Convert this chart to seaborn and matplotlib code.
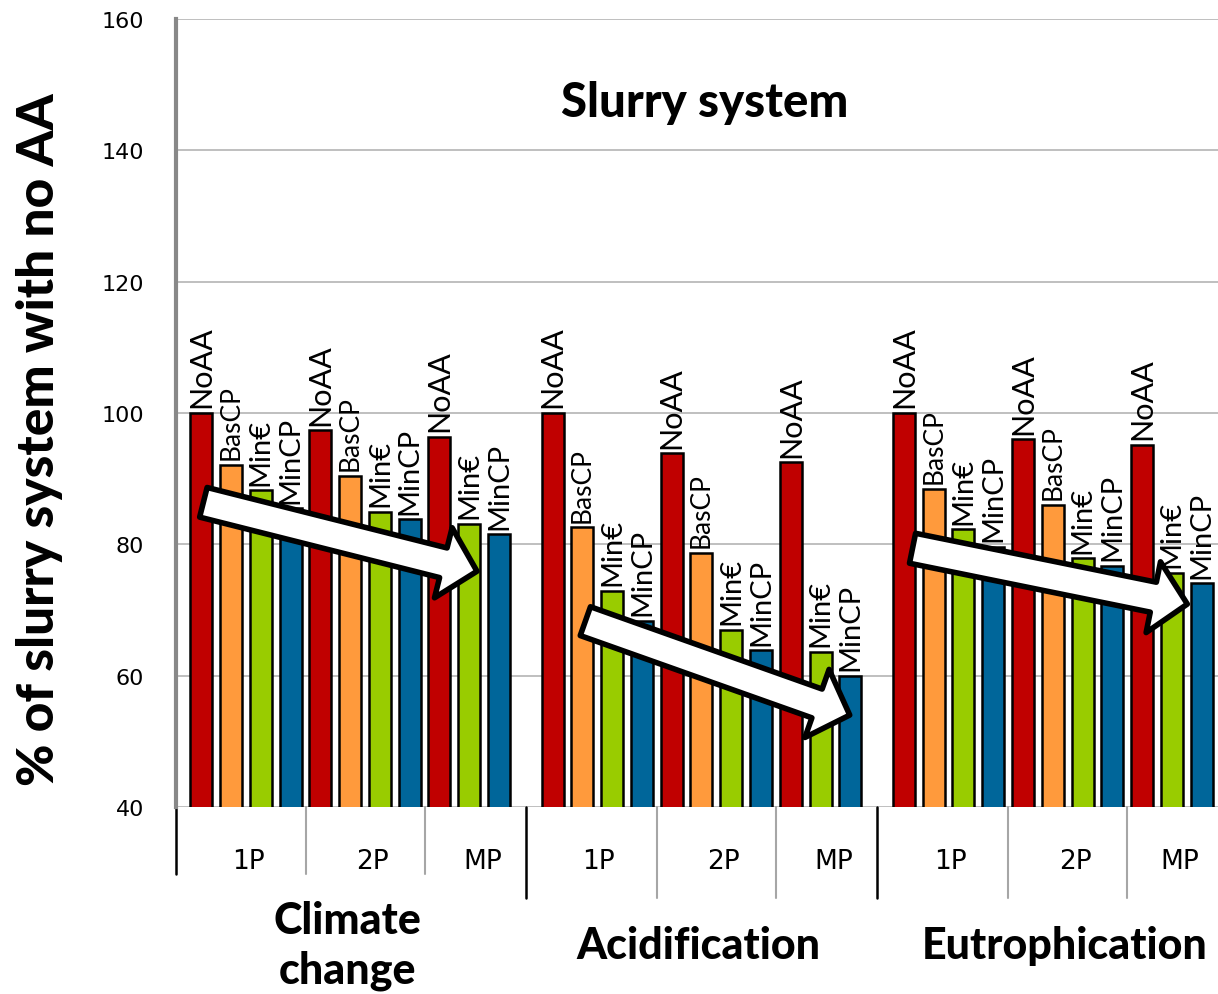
import pandas as pd
import matplotlib
matplotlib.use("Agg")
import matplotlib.pyplot as plt
import matplotlib.transforms as mtransforms
import seaborn as sns

# data (% of slurry system with no AA)
impacts = ["Climate\nchange", "Acidification", "Eutrophication"]
systems = ["1P", "2P", "MP"]
bar_system = ["1P"] * 4 + ["2P"] * 4 + ["MP"] * 3
bar_scenario = ["NoAA", "BasCP", "Min€", "MinCP",
                "NoAA", "BasCP", "Min€", "MinCP",
                "NoAA", "Min€", "MinCP"]
climate = [100, 92.1, 88.2, 85.5, 97.4, 90.4, 85.0, 83.8, 96.4, 83.1, 81.5]
acidification = [100, 82.6, 72.9, 68.4, 93.9, 78.7, 67.0, 63.9, 92.5, 63.6, 60.0]
eutrophication = [100, 88.5, 82.3, 79.6, 96.0, 86.0, 77.9, 76.7, 95.2, 75.7, 74.1]

colors = {"NoAA": "#C00000", "BasCP": "#FF9A3C", "Min€": "#99CC00", "MinCP": "#00669A"}
label_size = {"NoAA": 22, "BasCP": 19, "Min€": 21, "MinCP": 21}

stride = 11.8  # bar slots per impact block incl. gap

rows = []
for i, vals in enumerate([climate, acidification, eutrophication]):
    for j, v in enumerate(vals):
        rows.append({"impact": impacts[i], "system": bar_system[j],
                     "scenario": bar_scenario[j], "value": v,
                     "pos": i * stride + j})
df = pd.DataFrame(rows)

sns.set_style("white")
plt.rcParams["font.family"] = ["Lato", "DejaVu Sans"]
plt.rcParams["text.color"] = "black"
plt.rcParams["ytick.labelcolor"] = "black"

fig = plt.figure(figsize=(12.18, 9.95), dpi=100)
ax = fig.add_axes([176 / 1218, 1 - 808 / 995, 1 - 176 / 1218, 788 / 995])

sns.barplot(data=df, x="pos", y="value", hue="scenario", palette=colors,
            native_scale=True, dodge=False, width=0.74, saturation=1,
            edgecolor="black", linewidth=1.8, legend=False, ax=ax, zorder=3)

ax.set_ylim(40, 160)
ax.set_xlim(-0.85, 34.15)
ax.set_yticks(range(40, 161, 20))
ax.set_xticks([])
ax.set_xlabel("")
ax.set_ylabel("")
ax.yaxis.grid(True, color="#BFBFBF", linewidth=1.4)
ax.set_axisbelow(True)
for s in ["top", "right", "bottom"]:
    ax.spines[s].set_visible(False)
ax.spines["left"].set_color("#888888")
ax.spines["left"].set_linewidth(3)
ax.tick_params(axis="y", labelsize=16, length=9, width=1.5, color="#999999",
               labelcolor="black", pad=14)
for lbl in ax.get_yticklabels():
    lbl.set_fontfamily("DejaVu Sans")

# scenario labels above bars
for _, r in df.iterrows():
    ax.annotate(r["scenario"], (r["pos"], r["value"]), xytext=(0, 4),
                textcoords="offset points", rotation=90, ha="center", va="bottom",
                fontsize=label_size[r["scenario"]], family=["Lato", "DejaVu Sans"],
                zorder=4)

# arrows (tail -> tip, data units)
arrows = [((0.07, 86.4), (9.26, 75.9)),
          ((12.9, 68.3), (21.78, 54.0)),
          ((23.89, 79.4), (33.12, 70.9))]
for tail, tip in arrows:
    ax.annotate("", xy=tip, xytext=tail,
                arrowprops=dict(arrowstyle="simple,head_length=25,head_width=52,tail_width=22",
                                mutation_scale=1, fc="white", ec="black", lw=4,
                                shrinkA=0, shrinkB=0), zorder=6)

# multi-level category axis below the plot
trans = mtransforms.blended_transform_factory(ax.transData, ax.transAxes)
for i in range(3):
    start = i * stride
    seps = [start - 0.9 if i > 0 else -0.85, start + 3.5, start + 7.5]
    end = start + 10.9 if i < 2 else 34.15
    depth = -0.085 if i == 0 else -0.115
    for k, x in enumerate(seps):
        col = "black" if k == 0 else "#A6A6A6"
        ax.plot([x, x], [0, depth], transform=trans, clip_on=False,
                color=col, lw=1.8 if k == 0 else 1.5)
    bounds = seps + [end]
    for k, s in enumerate(systems):
        ax.text((bounds[k] + bounds[k + 1]) / 2 + 0.25, -0.068, s, transform=trans,
                ha="center", va="center", fontsize=19, family="DejaVu Sans")
    shift = 0.4 if i == 2 else -0.1
    ax.text(start + 5 + shift, -0.175, impacts[i], transform=trans, ha="center",
            va="center", fontsize=31, fontweight="black", linespacing=1.3)

fig.text(705 / 1218, 1 - 103 / 995, "Slurry system", ha="center", va="center",
         fontsize=34, fontweight="black")
fig.text(40 / 1218, 1 - 440 / 995, "% of slurry system with no AA", rotation=90,
         ha="center", va="center", fontsize=37, fontweight="black")

fig.savefig("out.png", dpi=100)
